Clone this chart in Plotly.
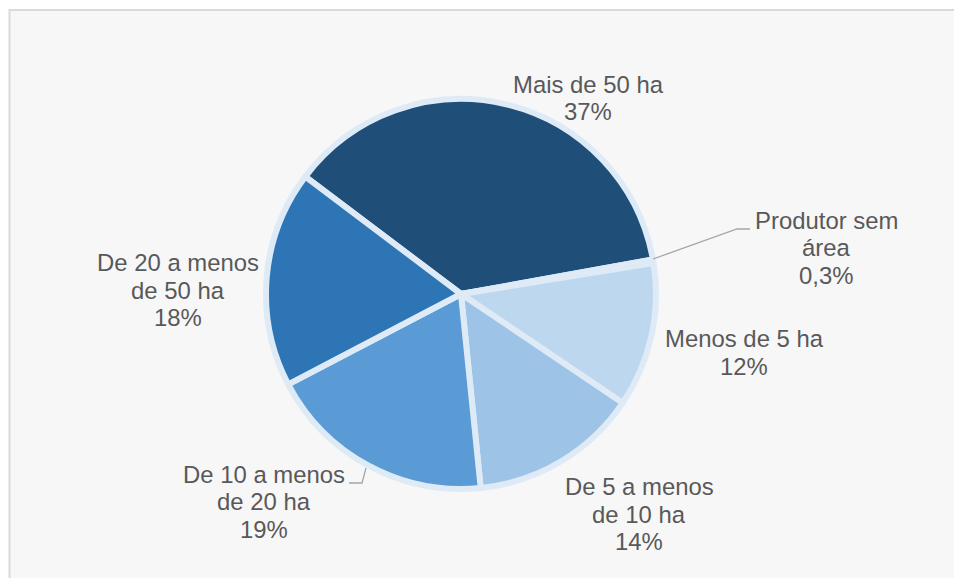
import plotly.graph_objects as go

# ---- data ----
categories = ["Mais de 50 ha", "Produtor sem área", "Menos de 5 ha",
              "De 5 a menos de 10 ha", "De 10 a menos de 20 ha", "De 20 a menos de 50 ha"]
values = [37, 0.3, 12, 14, 19, 18]
pct_labels = ["37%", "0,3%", "12%", "14%", "19%", "18%"]
label_lines = [
    ["Mais de 50 ha"],
    ["Produtor sem", "área"],
    ["Menos de 5 ha"],
    ["De 5 a menos", "de 10 ha"],
    ["De 10 a menos", "de 20 ha"],
    ["De 20 a menos", "de 50 ha"],
]
colors = ["#1f4e79", "#deebf7", "#bdd7ee", "#9dc3e6", "#5b9bd5", "#2e75b6"]

# ---- layout (pixels) ----
W, H = 954, 578
cx, cy, R = 461, 294, 195
# label anchors: (center x, first baseline y) in pixels
label_pos = [(588, 92.3), (826, 228.3), (744, 347), (639, 495), (264, 482.3), (178.3, 270.7)]
line_gap = 27.6
font_size = 23.9
text_color = "#595959"

def px(x):
    return x / W

def py(y):
    return 1 - y / H

fig = go.Figure(go.Pie(
    labels=categories,
    values=values,
    sort=False,
    direction="clockwise",
    rotation=-53,
    textinfo="none",
    hoverinfo="label+percent",
    marker=dict(colors=colors, line=dict(color="#deebf7", width=6)),
    domain=dict(x=[px(cx - R), px(cx + R)], y=[py(cy + R), py(cy - R)]),
    showlegend=False,
))

annotations = []
for (x0, b0), lines, pct in zip(label_pos, label_lines, pct_labels):
    for i, t in enumerate(lines + [pct]):
        base = b0 + i * line_gap
        annotations.append(dict(
            x=px(x0), y=py(base - 0.3465 * font_size), xref="paper", yref="paper",
            text=t, showarrow=False, xanchor="center", yanchor="middle",
            font=dict(family="Liberation Sans, Arial, sans-serif", size=font_size, color=text_color),
        ))

shapes = [
    dict(type="rect", xref="paper", yref="paper", layer="below",
         x0=px(9.5), x1=1, y0=0, y1=py(10),
         line=dict(width=0), fillcolor="#f7f7f7"),
    dict(type="path", xref="paper", yref="paper", layer="below",
         path=f"M {px(9.5)} 0 L {px(9.5)} {py(10)} L 1 {py(10)}",
         line=dict(color="#d9d9d9", width=2)),
    # leader lines
    dict(type="path", xref="paper", yref="paper",
         path=f"M {px(653)} {py(259)} L {px(737)} {py(229)} L {px(750)} {py(229)}",
         line=dict(color="#a6a6a6", width=1.3)),
    dict(type="path", xref="paper", yref="paper",
         path=f"M {px(349)} {py(483)} L {px(362)} {py(483)} L {px(366)} {py(468)}",
         line=dict(color="#a6a6a6", width=1.3)),
]

fig.update_layout(
    width=W, height=H,
    margin=dict(l=0, r=0, t=0, b=0),
    paper_bgcolor="white",
    plot_bgcolor="white",
    annotations=annotations,
    shapes=shapes,
)

fig.write_html("out.html",
               config={"displayModeBar": False},
               post_script="document.body.style.margin='0';document.body.style.overflow='hidden';")
